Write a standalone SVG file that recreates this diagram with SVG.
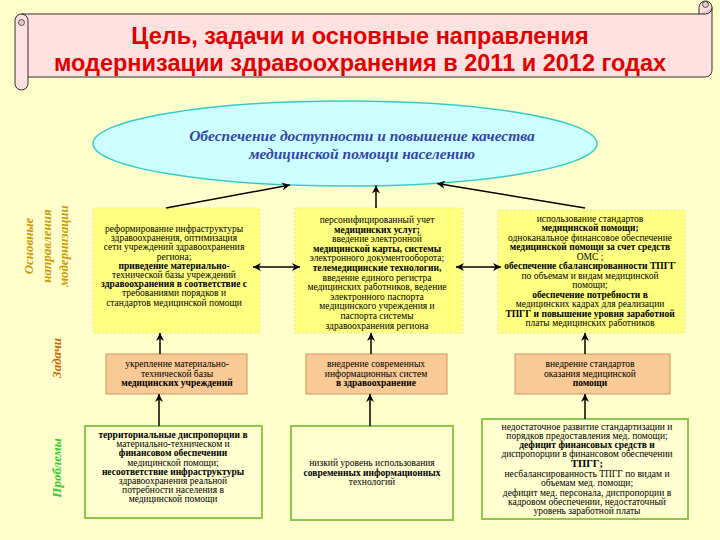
<svg xmlns="http://www.w3.org/2000/svg" width="720" height="540" viewBox="0 0 720 540">
<defs>
<marker id="ah" viewBox="0 0 10 10" refX="10" refY="5" markerWidth="9" markerHeight="8" markerUnits="userSpaceOnUse" orient="auto-start-reverse"><path d="M0,0 L10,5 L0,10 L3,5 z" fill="#000"/></marker>
</defs>
<style>
.t{font-family:"Liberation Serif","Times New Roman",serif;font-size:9.5px;fill:#000;text-anchor:middle}
.b{font-weight:bold}
.y{fill:#FFFF80;stroke:#E8E890;stroke-width:1;stroke-dasharray:2 2}
.o{fill:#F9C996;stroke:#C89660;stroke-width:1}
.g{fill:#FFFFCF;stroke:#8DC84B;stroke-width:2}
.c line{stroke:#000;stroke-width:1.5}
.lab{font-family:"Liberation Serif","Times New Roman",serif;font-style:italic;font-weight:bold;text-anchor:middle}
</style>
<rect width="720" height="540" fill="#FFFFCC"/>

<g id="title">
<path d="M15,20.5 A6.5,6.5 0 0 1 21.5,14 L699,14 L699,7.5 A6.5,6.5 0 0 1 712,7.5 L712,70.5 A6.5,6.5 0 0 1 705.5,77 L28,77 L28,83.5 A6.5,6.5 0 0 1 15,83.5 Z" fill="#FFE1E1" stroke="#000" stroke-width="0.8"/>
<path d="M712,7.5 A6.5,6.5 0 0 1 705.5,14 L699,14" fill="#E8C8C8" stroke="#000" stroke-width="0.8"/>
<circle cx="705.5" cy="4.5" r="3" fill="#E8C8C8" stroke="#000" stroke-width="0.6"/>
<path d="M21.5,14 A6.5,6.5 0 0 1 28,20.5 L28,77" fill="none" stroke="#000" stroke-width="0.8"/>
<circle cx="21.5" cy="22.5" r="3" fill="#E8C8C8" stroke="#000" stroke-width="0.6"/>
<text font-family="'Liberation Sans',Arial,sans-serif" font-weight="bold" font-size="23.5" fill="#E00000" text-anchor="middle"><tspan x="360" y="44">Цель, задачи и основные направления</tspan><tspan x="360" y="71">модернизации здравоохранения в 2011 и 2012 годах</tspan></text>
</g>

<g id="goal">
<ellipse cx="345" cy="143.5" rx="252" ry="42.5" fill="#CCFFFF" stroke="#33CCCC" stroke-width="1.5"/>
<text font-family="'Liberation Serif','Times New Roman',serif" font-style="italic" font-weight="bold" font-size="15.5" fill="#3344AA" text-anchor="middle"><tspan x="362" y="141">Обеспечение доступности и повышение качества</tspan><tspan x="362" y="159">медицинской помощи населению</tspan></text>
</g>

<g id="labels">
<text class="lab" font-size="13" fill="#CC9900" transform="translate(33,246) rotate(-90)" x="0" y="0">Основные</text>
<text class="lab" font-size="13" fill="#CC9900" transform="translate(51,246) rotate(-90)" x="0" y="0">направления</text>
<text class="lab" font-size="13" fill="#CC9900" transform="translate(68,246) rotate(-90)" x="0" y="0">модернизации</text>
<text class="lab" font-size="13" fill="#CC6600" transform="translate(61,358) rotate(-90)" x="0" y="0">Задачи</text>
<text class="lab" font-size="13" fill="#33CC33" transform="translate(61,468) rotate(-90)" x="0" y="0">Проблемы</text>
</g>

<g id="dir1">
<rect class="y" x="93" y="208" width="167" height="125"/>
<text class="t"><tspan x="174" y="232">реформирование инфраструктуры</tspan><tspan x="174" y="241.2">здравоохранения, оптимизация</tspan><tspan x="174" y="250.4">сети учреждений здравоохранения</tspan><tspan x="174" y="259.6">региона;</tspan><tspan x="174" y="268.8" class="b">приведение материально-</tspan><tspan x="174" y="278">технической базы учреждений</tspan><tspan x="174" y="287.2" class="b">здравоохранения в соответствие с</tspan><tspan x="174" y="296.4">требованиями порядков и</tspan><tspan x="174" y="305.6">стандартов медицинской помощи</tspan></text>
</g>

<g id="dir2">
<rect class="y" x="295" y="208" width="168" height="125"/>
<text class="t"><tspan x="377" y="223">персонифицированный учет</tspan><tspan x="377" y="232.6" class="b">медицинских услуг;</tspan><tspan x="377" y="242.2">введение электронной</tspan><tspan x="377" y="251.8" class="b">медицинской карты, системы</tspan><tspan x="377" y="261.4">электронного документооборота;</tspan><tspan x="377" y="271" class="b">телемедицинские технологии,</tspan><tspan x="377" y="280.6">введение единого регистра</tspan><tspan x="377" y="290.2">медицинских работников, ведение</tspan><tspan x="377" y="299.8">электронного паспорта</tspan><tspan x="377" y="309.4">медицинского учреждения и</tspan><tspan x="377" y="319">паспорта системы</tspan><tspan x="377" y="328.6">здравоохранения региона</tspan></text>
</g>

<g id="dir3">
<rect class="y" x="498" y="210" width="187" height="123"/>
<text class="t"><tspan x="590" y="222">использование стандартов</tspan><tspan x="590" y="231.45" class="b">медицинской помощи;</tspan><tspan x="590" y="240.9">одноканальное финансовое обеспечение</tspan><tspan x="590" y="250.35" class="b">медицинской помощи за счет средств</tspan><tspan x="590" y="259.8">ОМС ;</tspan><tspan x="590" y="269.25" class="b">обеспечение сбалансированности ТПГГ</tspan><tspan x="590" y="278.7">по объемам и видам медицинской</tspan><tspan x="590" y="288.15">помощи;</tspan><tspan x="590" y="297.6" class="b">обеспечение потребности в</tspan><tspan x="590" y="307.05">медицинских кадрах для реализации</tspan><tspan x="590" y="316.5" class="b">ТПГГ и повышение уровня заработной</tspan><tspan x="590" y="325.95">платы медицинских работников</tspan></text>
</g>

<g id="task1">
<rect class="o" x="106" y="354" width="141" height="40"/>
<text class="t"><tspan x="177" y="367">укрепление материально-</tspan><tspan x="177" y="376.5">технической базы</tspan><tspan x="177" y="386" class="b">медицинских учреждений</tspan></text>
</g>
<g id="task2">
<rect class="o" x="306" y="354" width="141" height="40"/>
<text class="t"><tspan x="376" y="367">внедрение современных</tspan><tspan x="376" y="376.5">информационных систем</tspan><tspan x="376" y="386" class="b">в здравоохранение</tspan></text>
</g>
<g id="task3">
<rect class="o" x="515" y="354" width="155" height="40"/>
<text class="t"><tspan x="590" y="367">внедрение стандартов</tspan><tspan x="590" y="376.5">оказания медицинской</tspan><tspan x="590" y="386" class="b">помощи</tspan></text>
</g>

<g id="prob1">
<rect class="g" x="85" y="426" width="177" height="92"/>
<text class="t"><tspan x="173" y="438" class="b">территориальные диспропорции в</tspan><tspan x="173" y="447.2">материально-техническом и</tspan><tspan x="173" y="456.4" class="b">финансовом обеспечении</tspan><tspan x="173" y="465.6">медицинской помощи;</tspan><tspan x="173" y="474.8" class="b">несоответствие инфраструктуры</tspan><tspan x="173" y="484">здравоохранения реальной</tspan><tspan x="173" y="493.2">потребности населения в</tspan><tspan x="173" y="502.4">медицинской помощи</tspan></text>
</g>
<g id="prob2">
<rect class="g" x="291" y="426" width="162" height="94"/>
<text class="t"><tspan x="372" y="466">низкий уровень использования</tspan><tspan x="372" y="475.5" class="b">современных информационных</tspan><tspan x="372" y="485">технологий</tspan></text>
</g>
<g id="prob3">
<rect class="g" x="482" y="419" width="206" height="100"/>
<text class="t"><tspan x="587" y="429.5">недостаточное развитие стандартизации и</tspan><tspan x="587" y="438.7">порядков предоставления мед. помощи;</tspan><tspan x="587" y="447.9" class="b">дефицит финансовых средств и</tspan><tspan x="587" y="457.1">диспропорции в финансовом обеспечении</tspan><tspan x="587" y="467.3" class="b" font-size="10.5">ТПГГ;</tspan><tspan x="587" y="477.2">несбалансированность ТПГГ по видам и</tspan><tspan x="587" y="486.4">объемам мед. помощи;</tspan><tspan x="587" y="495.6">дефицит мед. персонала, диспропорции в</tspan><tspan x="587" y="504.8">кадровом обеспечении, недостаточный</tspan><tspan x="587" y="514">уровень заработной платы</tspan></text>
</g>

<g id="connectors" class="c">
<line x1="166" y1="208" x2="290" y2="185" marker-end="url(#ah)"/>
<line x1="376" y1="208" x2="376" y2="185.5" marker-end="url(#ah)"/>
<line x1="585" y1="208" x2="437" y2="183.5" marker-end="url(#ah)"/>
<line x1="253" y1="267" x2="300" y2="267" marker-start="url(#ah)" marker-end="url(#ah)"/>
<line x1="456" y1="267" x2="501" y2="267" marker-start="url(#ah)" marker-end="url(#ah)"/>
<line x1="160" y1="354" x2="160" y2="333" marker-end="url(#ah)"/>
<line x1="371" y1="354" x2="371" y2="333" marker-end="url(#ah)"/>
<line x1="585" y1="354" x2="585" y2="333" marker-end="url(#ah)"/>
<line x1="159" y1="426" x2="159" y2="394" marker-end="url(#ah)"/>
<line x1="370" y1="426" x2="370" y2="394" marker-end="url(#ah)"/>
<line x1="585" y1="419" x2="585" y2="394" marker-end="url(#ah)"/>
</g>
</svg>
